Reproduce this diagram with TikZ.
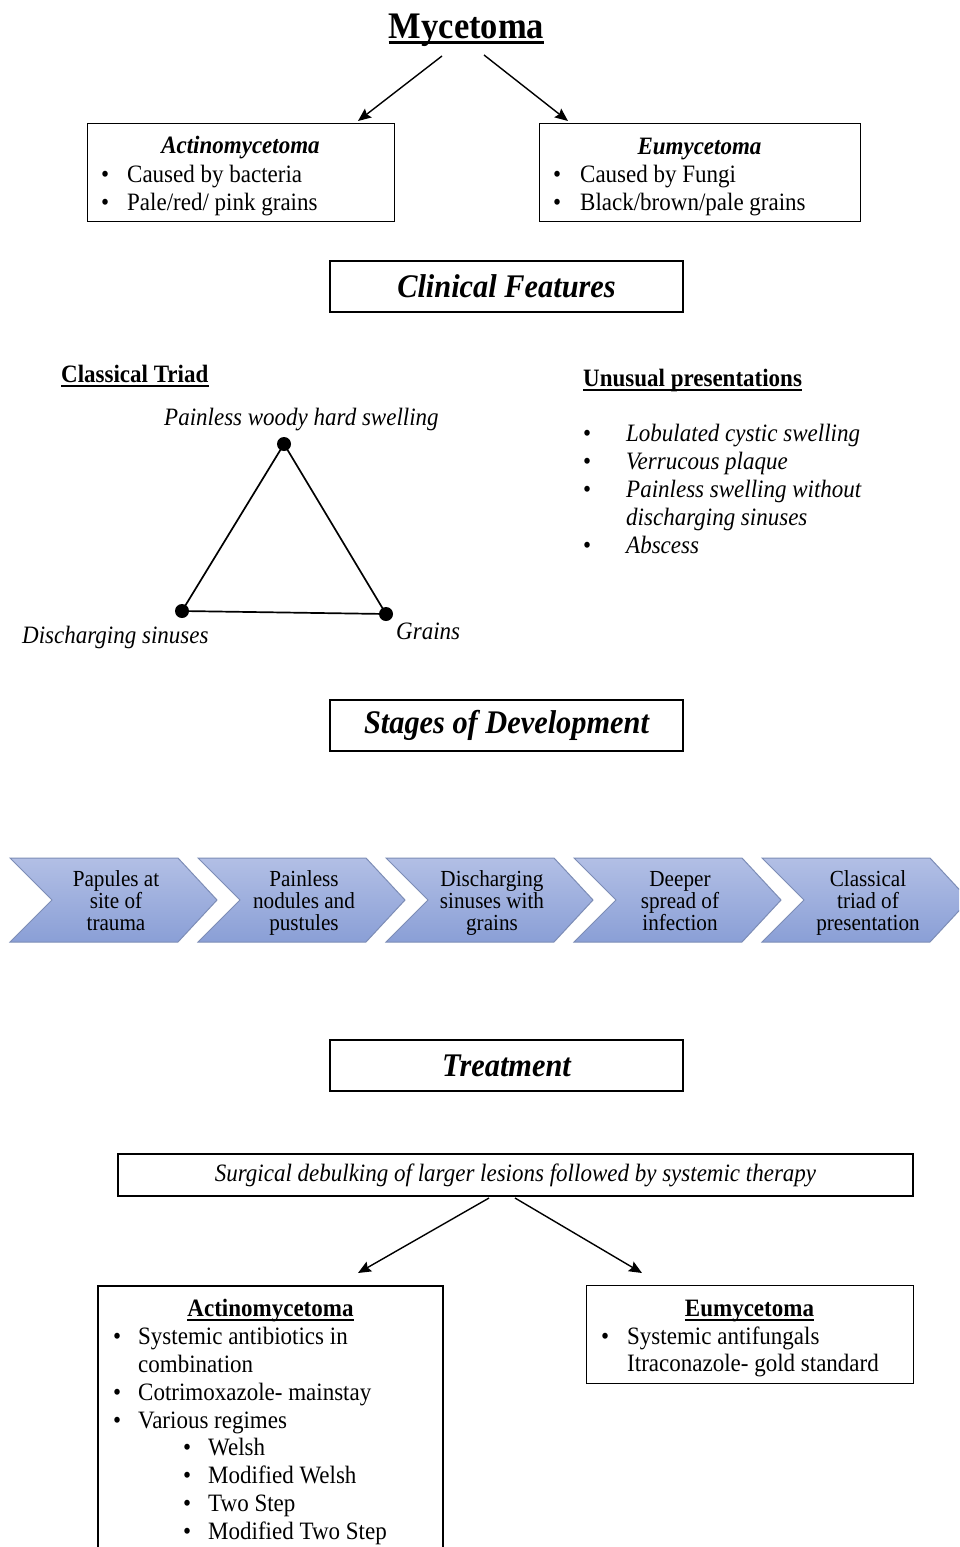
\documentclass[tikz,border=0pt]{standalone}
\usepackage{fontspec}
\setmainfont{Liberation Serif}[FakeStretch=0.92]
\usetikzlibrary{arrows.meta}
\definecolor{chevtop}{HTML}{B2BFE5}
\definecolor{chevbot}{HTML}{8A9FD6}
\definecolor{chevline}{HTML}{7D8DB6}
\begin{document}
\begin{tikzpicture}[x=1pt,y=-1pt,
  txt/.style={inner sep=0pt, font=\fontsize{25pt}{28pt}\selectfont},
  ital/.style={inner sep=0pt, font=\fontsize{25pt}{28pt}\selectfont\itshape},
  bld/.style={inner sep=0pt, font=\fontsize{25pt}{28pt}\selectfont\bfseries},
  bldit/.style={inner sep=0pt, font=\fontsize{25pt}{28pt}\selectfont\bfseries\itshape},
  box/.style={draw, line width=1.2pt},
  head/.style={draw, line width=1.2pt, minimum width=353pt, minimum height=51pt, inner sep=0pt, font=\fontsize{33pt}{36pt}\selectfont\bfseries\itshape},
  arr/.style={-{Stealth[length=13pt,width=11pt,inset=2pt]}, line width=1.4pt},
  uline/.style={line width=1.4pt},
  dot/.style={circle, fill, inner sep=0pt, minimum size=14pt},
  chevtxt/.style={inner sep=0pt, anchor=base, font=\fontsize{23pt}{22pt}\selectfont},
  chev/.style={top color=chevtop, bottom color=chevbot, draw=chevline, line width=1pt}
]
\useasboundingbox (0,0) rectangle (959,1547);

% Title
\node[inner sep=0pt, anchor=base, font=\fontsize{37.5pt}{40pt}\selectfont\bfseries] (title) at (466.5,38) {Mycetoma};
\draw[line width=2.6pt] ([yshift=-4.5pt]title.base west) -- ([yshift=-4.5pt]title.base east);

% Top boxes
\node[box, anchor=north west, minimum width=307pt, minimum height=98pt] (actbox) at (87,123) {};
\node[bldit, anchor=base] (actt) at (240.5,153) {Actinomycetoma};
\node[txt, anchor=base west] (act1) at (101,182) {\makebox[26pt][l]{•}Caused by bacteria};
\node[txt, anchor=base west] (act2) at (101,210) {\makebox[26pt][l]{•}Pale/red/ pink grains};

\node[box, anchor=north west, minimum width=321pt, minimum height=98pt] (eubox) at (539,123) {};
\node[bldit, anchor=base] (eut) at (699.5,154) {Eumycetoma};
\node[txt, anchor=base west] (eu1) at (553,182) {\makebox[27pt][l]{•}Caused by Fungi};
\node[txt, anchor=base west] (eu2) at (553,210) {\makebox[27pt][l]{•}Black/brown/pale grains};

\coordinate (a1s) at (442,56); \coordinate (a1e) at (358,121);
\coordinate (a2s) at (484,55); \coordinate (a2e) at (568,121);
\draw[arr] (a1s) -- (a1e);
\draw[arr] (a2s) -- (a2e);

% Clinical features
\node[head] (cf) at (506.5,286.5) {Clinical Features};

\node[bld, anchor=base west] (ct) at (61,382) {Classical Triad};
\draw[uline] ([yshift=-4pt]ct.base west) -- ([yshift=-4pt]ct.base east);
\node[bld, anchor=base west] (up) at (583,386) {Unusual presentations};
\draw[uline] ([yshift=-4pt]up.base west) -- ([yshift=-4pt]up.base east);

\node[ital, anchor=base west] (lA) at (164,425) {Painless woody hard swelling};
\node[ital, anchor=base west] (lB) at (22,643) {Discharging sinuses};
\node[ital, anchor=base west] (lC) at (396,639) {Grains};
\node[dot] (tA) at (284,444) {};
\node[dot] (tB) at (182,611) {};
\node[dot] (tC) at (386,614) {};
\draw[line width=1.7pt] (tA.center) -- (tB.center) -- (tC.center) -- cycle;

\node[ital, anchor=base west] (u1) at (583,441) {\makebox[43pt][l]{\upshape•}Lobulated cystic swelling};
\node[ital, anchor=base west] (u2) at (583,469) {\makebox[43pt][l]{\upshape•}Verrucous plaque};
\node[ital, anchor=base west] (u3) at (583,497) {\makebox[43pt][l]{\upshape•}Painless swelling without};
\node[ital, anchor=base west] (u3b) at (626,525) {discharging sinuses};
\node[ital, anchor=base west] (u4) at (583,553) {\makebox[43pt][l]{\upshape•}Abscess};

% Stages
\node[head] (sd) at (506.5,725.5) {Stages of Development};

\begin{scope}
\clip (0,0) rectangle (959,1547);
\foreach \i/\ta/\tb/\tc in {0/Papules at/site of/trauma, 1/Painless/nodules and/pustules, 2/Discharging/sinuses with/grains, 3/Deeper/spread of/infection, 4/Classical/triad of/presentation}{
  \pgfmathsetmacro{\xo}{10+188*\i}
  \shadedraw[chev] (\xo,858) -- ({\xo+168},858) -- ({\xo+207},900) -- ({\xo+168},942) -- (\xo,942) -- ({\xo+42},900) -- cycle;
  \node[chevtxt] (chev\i a) at ({\xo+106},886) {\ta};
  \node[chevtxt] (chev\i b) at ({\xo+106},908) {\tb};
  \node[chevtxt] (chev\i c) at ({\xo+106},930) {\tc};
}
\end{scope}

% Treatment
\node[head] (tr) at (506.5,1065.5) {Treatment};

\node[box, ital, minimum width=795pt, minimum height=42pt] (surg) at (515.5,1175) {Surgical debulking of larger lesions followed by systemic therapy};

\coordinate (a3s) at (489,1198); \coordinate (a3e) at (358,1273);
\coordinate (a4s) at (515,1198); \coordinate (a4e) at (642,1273);
\draw[arr] (a3s) -- (a3e);
\draw[arr] (a4s) -- (a4e);

% Bottom left box (runs off the page)
\draw[line width=1.2pt] (98,1547) -- (98,1286) -- (443,1286) -- (443,1547);
\node[bld, anchor=base] (bat) at (270.5,1316) {Actinomycetoma};
\draw[uline] ([yshift=-4pt]bat.base west) -- ([yshift=-4pt]bat.base east);
\node[txt, anchor=base west] (ba1) at (113,1344) {\makebox[25pt][l]{•}Systemic antibiotics in};
\node[txt, anchor=base west] (ba1b) at (138,1372) {combination};
\node[txt, anchor=base west] (ba2) at (113,1400) {\makebox[25pt][l]{•}Cotrimoxazole- mainstay};
\node[txt, anchor=base west] (ba3) at (113,1428) {\makebox[25pt][l]{•}Various regimes};
\node[txt, anchor=base west] (bs1) at (183,1455) {\makebox[25pt][l]{•}Welsh};
\node[txt, anchor=base west] (bs2) at (183,1483) {\makebox[25pt][l]{•}Modified Welsh};
\node[txt, anchor=base west] (bs3) at (183,1511) {\makebox[25pt][l]{•}Two Step};
\node[txt, anchor=base west] (bs4) at (183,1539) {\makebox[25pt][l]{•}Modified Two Step};

% Bottom right box
\node[box, anchor=north west, minimum width=327pt, minimum height=98pt] (bebox) at (586,1285) {};
\node[bld, anchor=base] (bet) at (749.5,1316) {Eumycetoma};
\draw[uline] ([yshift=-4pt]bet.base west) -- ([yshift=-4pt]bet.base east);
\node[txt, anchor=base west] (be1) at (601,1344) {\makebox[26pt][l]{•}Systemic antifungals};
\node[txt, anchor=base west] (be1b) at (627,1371) {Itraconazole- gold standard};
\end{tikzpicture}
\end{document}
